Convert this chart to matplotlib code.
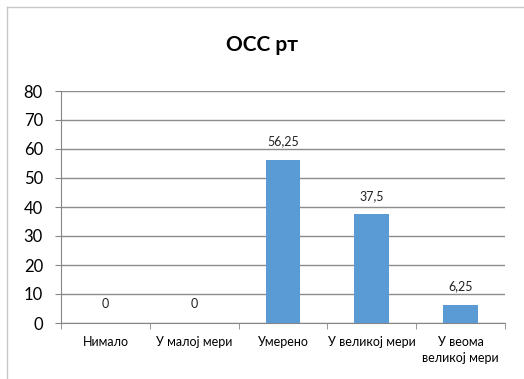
import matplotlib.pyplot as plt
from matplotlib.lines import Line2D

categories = ["Нимало", "У малој мери", "Умерено", "У великој мери", "У веома\nвеликој мери"]
values = [0, 0, 56.25, 37.5, 6.25]
value_labels = ["0", "0", "56,25", "37,5", "6,25"]
y_ticks = [0, 10, 20, 30, 40, 50, 60, 70, 80]

plt.rcParams["font.family"] = ["Lato", "DejaVu Sans"]

fig = plt.figure(figsize=(5.24, 3.79), dpi=100)
ax = fig.add_axes([61 / 524, 1 - 323 / 379, 444 / 524, 232 / 379])

x = list(range(len(categories)))
ax.bar(x, values, width=0.39, color="#5B9BD5", zorder=3)

for xi, v, lab in zip(x, values, value_labels):
    ax.annotate(lab, (xi, v), xytext=(0, 9), textcoords="offset points",
                ha="center", va="bottom", fontsize=9, color="#222222")

ax.set_xlim(-0.5, len(categories) - 0.5)
ax.set_ylim(0, 80)
ax.set_yticks(y_ticks)
ax.tick_params(axis="y", labelsize=12, length=4, color="#868686", pad=9)
ax.yaxis.grid(True, color="#8c8c8c", linewidth=1, zorder=0)
ax.set_axisbelow(True)

ax.set_xticks(x)
ax.set_xticklabels(categories, fontsize=9, linespacing=1.45)
ax.tick_params(axis="x", length=0, pad=9)
# category boundary ticks
ax.set_xticks([i - 0.5 for i in range(len(categories) + 1)], minor=True)
ax.tick_params(axis="x", which="minor", length=4, color="#868686")

for side in ["top", "right"]:
    ax.spines[side].set_visible(False)
ax.spines["left"].set_color("#868686")
ax.spines["bottom"].set_color("#868686")

fig.suptitle("ОСС рт", fontsize=15, fontweight="bold", y=1 - 45 / 379, va="center")

# chart frame (cropped on right and bottom)
fig.add_artist(Line2D([7 / 524, 7 / 524], [0, 1 - 7 / 379], transform=fig.transFigure,
                      color="#c8c8c8", linewidth=1))
fig.add_artist(Line2D([7 / 524, 1], [1 - 7 / 379, 1 - 7 / 379], transform=fig.transFigure,
                      color="#c8c8c8", linewidth=1))

fig.savefig("out.png", dpi=100)
plt.close(fig)
